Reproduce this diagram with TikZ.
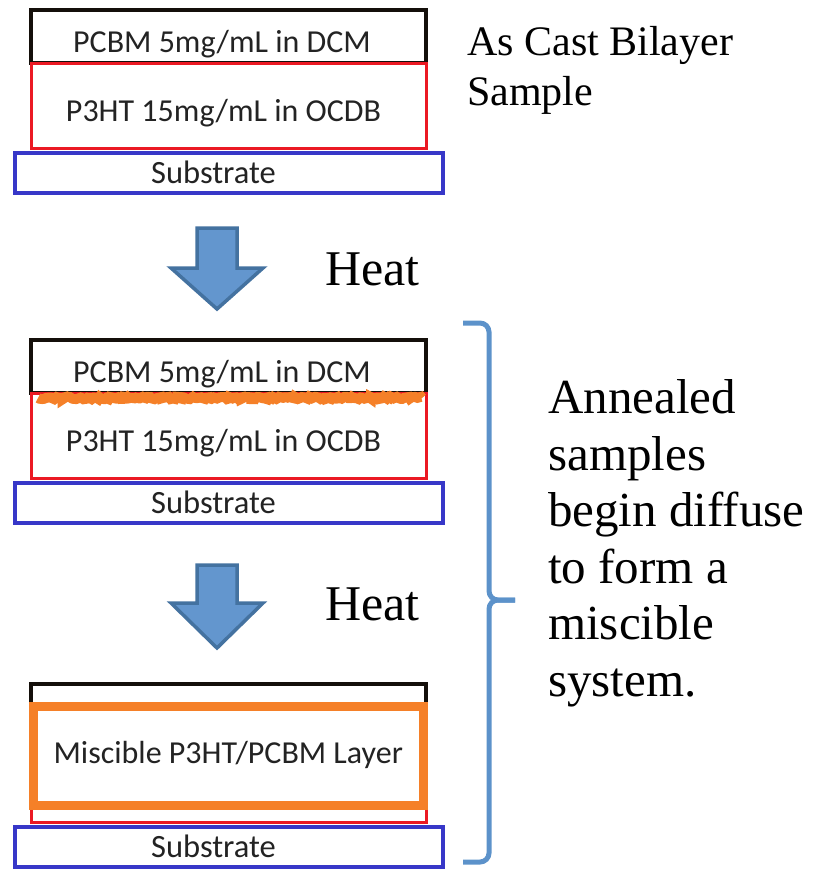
\documentclass[tikz,border=0pt]{standalone}
\usepackage{fontspec}
\setmainfont{Liberation Serif}
\newfontfamily\layerfont{Carlito}
\usetikzlibrary{positioning,decorations.pathmorphing}

\definecolor{pcbmblack}{RGB}{20,15,10}
\definecolor{p3htred}{RGB}{235,25,35}
\definecolor{substblue}{RGB}{55,55,200}
\definecolor{mixorange}{RGB}{245,128,40}
\definecolor{arrowfill}{RGB}{99,150,206}
\definecolor{arrowline}{RGB}{68,114,160}
\definecolor{bracketblue}{RGB}{92,146,202}
\definecolor{layertext}{RGB}{35,35,35}

\begin{document}
\begin{tikzpicture}[x=1pt,y=-1pt,
  layer/.style={rectangle,outer sep=0pt,inner sep=0pt,minimum width=395pt,
    font=\layerfont\fontsize{32}{38}\selectfont,text=layertext,text height=32pt,text depth=0pt},
  pcbm/.style={layer,draw=pcbmblack,line width=4.5pt,minimum height=53pt,
    execute at begin node={\hspace*{-13pt}}},
  p3ht/.style={layer,draw=p3htred,line width=3pt,minimum height=85pt,
    execute at begin node={\hspace*{-10pt}}},
  substrate/.style={layer,draw=substblue,line width=4pt,minimum width=428pt,minimum height=40pt,
    font=\layerfont\fontsize{32.5}{38}\selectfont,text height=21pt,
    execute at begin node={\hspace*{-30pt}}},
  mixed/.style={layer,draw=mixorange,fill=white,line width=9pt,minimum width=389.5pt,
    minimum height=98.5pt,text height=16pt},
  interface/.style={draw=mixorange,line width=10pt,decorate,
    decoration={random steps,segment length=2pt,amplitude=1.2pt}},
  heatarrow/.style={fill=arrowfill,draw=arrowline,line width=3.5pt,line join=miter},
  heat/.style={anchor=base west,inner sep=0pt,font=\fontsize{50}{60}\selectfont},
  note/.style={anchor=north west,inner sep=0pt,align=left},
  bracket/.style={draw=bracketblue,line width=5pt,rounded corners=9pt}]
\useasboundingbox (0,0) rectangle (814,873);

% as cast bilayer
  \node[pcbm]      (pcbm1) at (228.5,36.5)     {PCBM 5mg/mL in DCM};
  \node[p3ht]      (p3ht1) [below=0pt of pcbm1] {P3HT 15mg/mL in OCDB};
  \node[substrate] (sub1)  [below=5pt of p3ht1] {Substrate};
  \node[note,font=\fontsize{42}{50}\selectfont] (ascast) at (467,26) {As Cast Bilayer\\Sample};

% first heating step
  \draw[heatarrow] (197,228) -- (237,228) -- (237,268) -- (263,268) -- (217,309)
    -- (171,268) -- (197,268) -- cycle;
  \node[heat] (heat1) at (325,285) {Heat};

% annealed, interface starts to mix
  \node[pcbm]      (pcbm2) at (228.5,366.5)    {PCBM 5mg/mL in DCM};
  \node[p3ht]      (p3ht2) [below=0pt of pcbm2] {P3HT 15mg/mL in OCDB};
  \node[substrate] (sub2)  [below=5pt of p3ht2] {Substrate};
  \draw[interface] ([shift={(7,5)}]pcbm2.south west) -- ([shift={(-4,5)}]pcbm2.south east);

% second heating step
  \draw[heatarrow] (197,565) -- (237,565) -- (237,603) -- (263,603) -- (217,648)
    -- (171,603) -- (197,603) -- cycle;
  \node[heat] (heat2) at (325,620) {Heat};

% fully mixed layer
  \node[pcbm]      (pcbm3) at (228.5,710.5)    {};
  \node[p3ht]      (p3ht3) [below=0pt of pcbm3] {};
  \node[substrate] (sub3)  [below=5pt of p3ht3] {Substrate};
  \node[mixed]     (mix3)  at (228.25,755.75)  {Miscible P3HT/PCBM Layer};

% bracket and note
  \draw[bracket] (463,323) -| (489,600) -- (515,600);
  \draw[bracket] (463,862) -| (489,600) -- (515,600);
  \node[note,font=\fontsize{49}{56.5}\selectfont] (annealed) at (548,379.5)
    {Annealed\\samples\\begin diffuse\\to form a\\miscible\\system.};
\end{tikzpicture}
\end{document}
